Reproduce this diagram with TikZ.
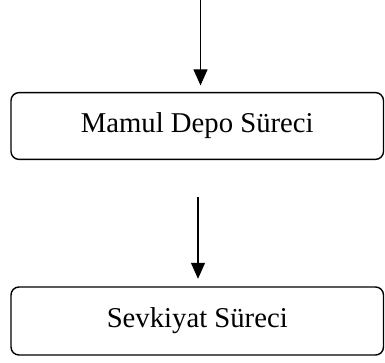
\documentclass[tikz,border=0pt]{standalone}
\usepackage{fontspec}
\setmainfont{Liberation Serif}
\usetikzlibrary{arrows.meta}
\begin{document}
\begin{tikzpicture}[x=1pt,y=-1pt,
  procbox/.style={draw=black,line width=1.4pt,rounded corners=8pt,minimum width=372.5pt,inner sep=0pt,font=\fontsize{28.7}{34}\selectfont},
  flow/.style={line width=1.1pt,-{Triangle[width=14pt,length=16pt]}}]
\useasboundingbox (0,0) rectangle (385,362);
\node[procbox,minimum height=66.8pt] (m) at (197.25,126) {Mamul Depo Süreci};
\node[procbox,minimum height=68pt] (s) at (197.25,321) {Sevkiyat Süreci};
\coordinate (t1) at (200.5,0);
\coordinate (t2) at (198,196.7);
\draw[flow] (t1) -- ([yshift=6.5pt]m.north -| t1);
\draw[flow] (t2) -- ([yshift=7.5pt]s.north -| t2);
\end{tikzpicture}
\end{document}
